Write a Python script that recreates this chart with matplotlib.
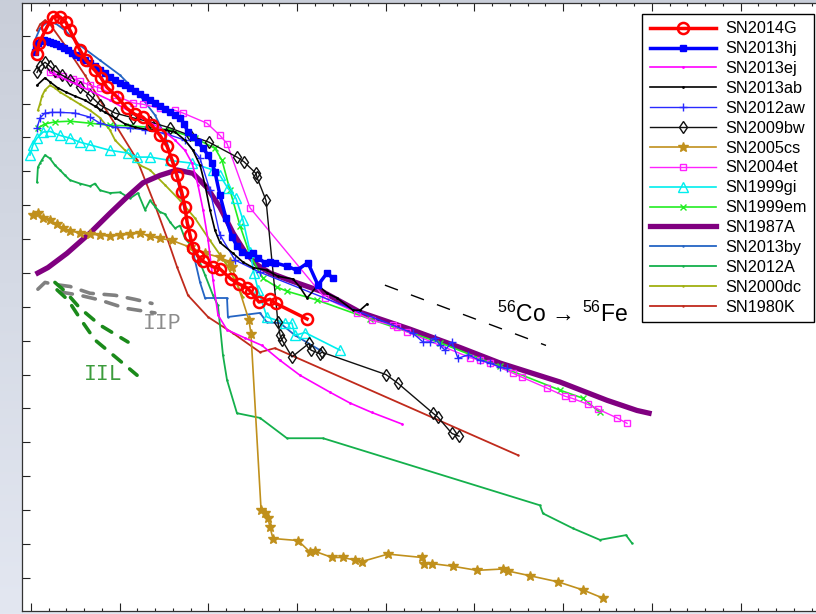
import matplotlib
matplotlib.use("Agg")
import numpy as np
import matplotlib.pyplot as plt
from matplotlib.colors import LinearSegmentedColormap
from matplotlib.ticker import MultipleLocator

plt.rcParams["font.family"] = ["Liberation Sans", "DejaVu Sans"]
plt.rcParams["mathtext.fontset"] = "custom"
plt.rcParams["mathtext.rm"] = "Liberation Sans"
plt.rcParams["mathtext.it"] = "Liberation Sans:italic"
plt.rcParams["mathtext.bf"] = "Liberation Sans:bold"

# ---- light curves: days since explosion vs absolute magnitude ----
sn2014g_day = [3.4, 4.5, 9.0, 12.4, 16.3, 19.7, 22.0, 27.6, 31.0, 36.0, 39.5, 42.8, 48.5, 54.0,
               58.6, 63.0, 68.0, 72.7, 76.7, 79.5, 82.3, 85.0, 86.8, 88.0, 89.6, 91.3, 94.0, 97.0,
               102.6, 106.5, 112.7, 117.0, 121.8, 124.0, 128.5, 134.7, 138.0, 155.6]
sn2014g_mag = [-17.73, -17.89, -18.13, -18.28, -18.28, -18.20, -18.08, -17.79, -17.64, -17.49,
               -17.38, -17.24, -17.10, -16.93, -16.84, -16.80, -16.68, -16.53, -16.37, -16.17,
               -15.94, -15.69, -15.47, -15.25, -15.06, -14.87, -14.75, -14.67, -14.59, -14.56,
               -14.41, -14.34, -14.28, -14.22, -14.07, -14.11, -14.05, -13.82]

sn2013hj_day = [2.3, 2.8, 4.0, 5.6, 7.3, 9.0, 10.7, 12.4, 14.1, 16.4, 18.6, 20.9, 23.1, 25.4, 27.6,
                30.4, 33.3, 36.1, 38.9, 41.7, 44.5, 47.4, 50.2, 53.0, 55.8, 58.6, 61.4, 64.3, 67.1,
                69.9, 72.7, 75.5, 78.4, 81.2, 84.0, 86.3, 88.5, 91.3, 94.1, 97.0, 99.8, 102.0,
                103.7, 106.5, 109.9, 113.3, 116.1, 118.9, 122.3, 125.1, 128.0, 131.9, 134.7,
                137.5, 144.3, 149.9, 156.1, 161.8, 166.9, 170.2]
sn2013hj_mag = [-17.76, -17.83, -17.89, -17.92, -17.94, -17.92, -17.91, -17.89, -17.88, -17.85,
                -17.82, -17.79, -17.74, -17.72, -17.69, -17.64, -17.60, -17.55, -17.49, -17.45,
                -17.39, -17.35, -17.30, -17.27, -17.23, -17.18, -17.14, -17.10, -17.05, -17.01,
                -16.96, -16.92, -16.87, -16.83, -16.79, -16.70, -16.58, -16.50, -16.43, -16.34,
                -16.24, -16.12, -15.99, -15.65, -15.31, -15.03, -14.90, -14.81, -14.76, -14.79,
                -14.72, -14.65, -14.66, -14.65, -14.60, -14.54, -14.65, -14.32, -14.50, -14.42]

sn2013ej_day = [10.7, 27.6, 44.5, 61.4, 72.7, 81.2, 86.8, 90.8, 94.1, 97.0, 99.8, 102.6, 105.4,
                110.5, 120.6, 130.2, 140.4, 151.6, 168.5, 179.8, 192.2, 209.1]
sn2013ej_mag = [-17.46, -17.26, -17.05, -16.80, -16.64, -16.46, -16.31, -16.12, -15.80, -15.43,
                -14.99, -14.40, -13.88, -13.66, -13.54, -13.43, -13.21, -12.99, -12.74, -12.58,
                -12.44, -12.27]

sn2013ab_day = [3.4, 7.9, 10.7, 15.2, 19.7, 24.8, 30.4, 36.1, 41.7, 47.4, 53.0, 58.6, 67.1, 75.5,
                81.2, 86.8, 91.3, 95.3, 98.1, 100.9, 103.7, 106.5, 113.9, 119.5, 125.1, 133.0,
                139.2, 147.7, 151.6, 155.6, 161.8, 166.9, 172.5, 181.5, 185.5, 189.4]
sn2013ab_mag = [-17.27, -17.38, -17.32, -17.23, -17.17, -17.11, -17.05, -16.96, -16.87, -16.79,
                -16.70, -16.65, -16.61, -16.61, -16.58, -16.46, -16.31, -16.09, -15.80, -15.43,
                -15.13, -14.95, -14.79, -14.66, -14.58, -14.54, -14.45, -14.41, -14.29, -14.13,
                -14.32, -14.20, -14.13, -13.95, -13.95, -14.04]

sn2012aw_day = [3.4, 5.1, 7.9, 11.8, 16.3, 24.8, 33.3, 38.9, 47.4, 55.8, 64.3, 75.5, 86.8, 95.3,
                100.9, 106.5, 115.0, 129.1, 215.3, 221.0, 224.9, 227.7, 230.6, 233.4, 237.3,
                240.7, 246.3, 253.1, 258.7, 264.4, 268.3]
sn2012aw_mag = [-16.64, -16.79, -16.86, -16.87, -16.87, -16.86, -16.80, -16.71, -16.65, -16.64,
                -16.61, -16.56, -16.46, -16.19, -15.72, -15.06, -14.69, -14.51, -13.61, -13.48,
                -13.48, -13.54, -13.43, -13.36, -13.48, -13.24, -13.29, -13.21, -13.17, -13.11,
                -13.09]

sn2009bw_day = [3.4, 5.1, 7.9, 10.7, 13.5, 17.5, 22.0, 27.6, 33.3, 38.9, 47.4, 57.5, 67.1, 78.4,
                89.6, 100.3, 116.1, 120.1, 126.8, 127.4, 132.5, 139.2, 140.4, 141.5, 147.1, 156.7,
                157.8, 162.9, 164.0, 200.1, 206.9, 226.6, 229.4, 237.3, 241.3]
sn2009bw_mag = [-17.46, -17.55, -17.61, -17.55, -17.48, -17.42, -17.35, -17.24, -17.12, -16.98,
                -16.86, -16.79, -16.73, -16.64, -16.53, -16.43, -16.21, -16.14, -15.97, -15.91,
                -15.57, -13.77, -13.58, -13.51, -13.26, -13.46, -13.36, -13.31, -13.33, -13.00,
                -12.87, -12.43, -12.37, -12.13, -12.09]

sn2005cs_day = [1.1, 3.9, 6.8, 10.7, 14.7, 18.0, 22.0, 27.6, 33.3, 38.9, 44.5, 50.2, 55.8, 61.4,
                67.1, 72.7, 79.5, 89.6, 98.1, 106.5, 112.2, 113.3, 122.9, 124.0, 129.7, 131.9,
                133.6, 134.7, 136.4, 150.5, 157.3, 160.1, 169.7, 175.9, 182.6, 186.6, 201.2,
                220.4, 221.5, 226.0, 237.9, 251.4, 266.1, 268.9, 281.3, 297.1, 311.2, 322.4]
sn2005cs_mag = [-15.35, -15.38, -15.31, -15.28, -15.22, -15.16, -15.12, -15.09, -15.07, -15.06,
                -15.04, -15.06, -15.07, -15.09, -15.04, -15.01, -14.98, -14.88, -14.79, -14.73,
                -14.66, -14.59, -13.80, -13.60, -11.00, -10.95, -10.88, -10.75, -10.58, -10.55,
                -10.38, -10.39, -10.30, -10.30, -10.26, -10.24, -10.35, -10.30, -10.21, -10.21,
                -10.17, -10.11, -10.13, -10.10, -10.03, -9.94, -9.82, -9.70]

sn2004et_day = [10.7, 14.7, 18.0, 23.7, 27.6, 33.3, 38.9, 47.4, 57.5, 63.1, 72.7, 81.2, 85.7, 99.2,
                106.5, 110.5, 123.5, 165.7, 183.8, 192.2, 204.1, 206.3, 211.9, 247.5, 253.1, 258.7,
                271.7, 276.8, 290.9, 301.0, 305.0, 314.0, 319.6, 330.3, 336.0]
sn2004et_mag = [-17.46, -17.43, -17.41, -17.37, -17.33, -17.27, -17.23, -17.12, -17.01, -16.99,
                -16.93, -16.90, -16.86, -16.71, -16.53, -16.41, -15.46, -14.13, -13.91, -13.80,
                -13.73, -13.70, -13.63, -13.25, -13.21, -13.17, -13.02, -12.96, -12.80, -12.68,
                -12.65, -12.56, -12.49, -12.36, -12.28]

sn1999gi_day = [-0.6, 1.1, 3.4, 6.8, 10.7, 16.3, 22.0, 27.6, 33.3, 44.5, 54.7, 59.8, 67.1, 78.4,
                90.8, 102.6, 106.5, 111.0, 115.6, 119.5, 123.5, 125.7, 128.0, 133.0, 143.2, 147.1,
                148.8, 154.5, 174.2]
sn1999gi_mag = [-16.24, -16.39, -16.49, -16.58, -16.59, -16.53, -16.49, -16.43, -16.39, -16.31,
                -16.27, -16.21, -16.21, -16.16, -16.12, -16.02, -15.94, -15.75, -15.60, -15.28,
                -14.81, -14.50, -14.25, -13.85, -13.76, -13.76, -13.58, -13.62, -13.36]

sn1999em_day = [3.9, 7.9, 13.5, 22.0, 33.3, 44.5, 55.8, 67.1, 78.4, 92.4, 103.7, 107.7, 112.2,
                117.8, 123.5, 130.8, 138.7, 144.3, 161.2, 191.1, 230.6, 264.4, 298.2, 311.2, 320.7]
sn1999em_mag = [-16.64, -16.70, -16.73, -16.74, -16.71, -16.68, -16.67, -16.65, -16.61, -16.49,
                -16.34, -16.16, -15.72, -15.20, -14.76, -14.42, -14.29, -14.23, -14.10, -13.82,
                -13.47, -13.12, -12.77, -12.65, -12.44]

sn1987a_day = [3.9, 9.6, 20.3, 33.3, 44.5, 54.1, 63.1, 72.7, 82.3, 91.3, 99.2, 106.5, 113.9, 120.6,
               127.4, 134.7, 146.0, 164.6, 185.5, 213.6, 241.8, 264.4, 298.2, 324.7, 341.6, 348.4]
sn1987a_mag = [-14.50, -14.58, -14.79, -15.09, -15.38, -15.62, -15.83, -15.94, -16.02, -15.97,
               -15.76, -15.47, -15.09, -14.81, -14.62, -14.50, -14.39, -14.22, -13.92, -13.67,
               -13.40, -13.17, -12.89, -12.62, -12.47, -12.43]

sn2013by_day = [2.3, 5.1, 9.0, 13.5, 19.2, 27.6, 38.9, 50.2, 61.4, 69.9, 75.5, 79.5, 84.0, 88.5,
                92.4, 95.3, 98.1, 110.5, 111.0, 129.1, 133.0, 140.4, 148.8, 162.9]
sn2013by_mag = [-17.94, -18.11, -18.20, -18.19, -18.08, -17.86, -17.64, -17.42, -17.12, -16.83,
                -16.53, -16.17, -15.72, -15.21, -14.69, -14.36, -14.13, -14.13, -13.85, -13.91,
                -13.77, -13.76, -13.58, -13.36]

sn2012a_day = [3.4, 3.9, 5.1, 6.2, 7.9, 10.7, 13.5, 16.3, 19.2, 22.0, 27.6, 33.3, 36.1, 38.9, 44.5,
               50.2, 55.8, 60.3, 64.3, 67.1, 69.9, 72.7, 75.5, 78.4, 81.2, 84.0, 86.8, 92.4, 98.1,
               102.6, 105.4, 108.2, 110.5, 116.1, 129.1, 144.3, 164.6, 286.9, 288.6, 305.5, 320.7,
               335.4, 338.8]
sn2012a_mag = [-15.84, -16.06, -16.12, -16.17, -16.24, -16.19, -16.09, -16.02, -15.94, -15.87,
               -15.82, -15.78, -15.82, -15.72, -15.68, -15.69, -15.60, -15.68, -15.43, -15.57,
               -15.48, -15.40, -15.37, -15.25, -15.16, -15.20, -15.01, -14.84, -14.47, -14.17,
               -14.02, -13.29, -12.92, -12.43, -12.36, -12.06, -12.06, -11.07, -10.95, -10.73,
               -10.56, -10.63, -10.51]

sn2000dc_day = [3.9, 5.1, 6.2, 7.9, 10.7, 13.5, 16.3, 22.0, 27.6, 33.3, 38.9, 44.5, 47.4, 53.0,
                61.4, 67.1, 75.5, 84.0, 92.4, 100.9, 109.4, 115.0, 119.5]
sn2000dc_mag = [-16.90, -17.00, -17.11, -17.20, -17.27, -17.23, -17.17, -17.08, -16.99, -16.90,
                -16.79, -16.61, -16.46, -16.31, -16.09, -16.02, -15.80, -15.57, -15.31, -14.98,
                -14.66, -14.39, -14.14]

sn1980k_day = [3.4, 5.1, 7.9, 10.7, 19.2, 30.4, 38.9, 48.5, 59.8, 69.9, 77.2, 82.3, 88.5, 99.8,
               113.9, 129.1, 137.5, 274.5]
sn1980k_mag = [-18.08, -18.17, -18.23, -18.17, -17.86, -17.42, -17.05, -16.65, -16.17, -15.50,
               -14.98, -14.59, -14.17, -13.85, -13.61, -13.33, -13.39, -11.81]

# template bands (upper / lower edges)
iip_hi_day = [3.9, 7.9, 13.5, 22.0, 33.3, 47.4, 58.6, 68.2]
iip_hi_mag = [-14.26, -14.36, -14.33, -14.30, -14.20, -14.17, -14.11, -14.05]
iip_lo_day = [16.3, 27.6, 38.9, 53.0, 69.9]
iip_lo_mag = [-14.22, -14.17, -14.10, -13.98, -13.91]
iil_hi_day = [13.5, 19.2, 27.6, 38.9, 54.7]
iil_hi_mag = [-14.36, -14.23, -13.98, -13.73, -13.48]
iil_lo_day = [14.7, 20.9, 27.6, 36.1, 48.5, 59.8]
iil_lo_mag = [-14.25, -14.10, -13.83, -13.51, -13.24, -12.99]

# 56Co decay slope, 0.98 mag / 100 d
cobalt_day = [199.5, 290.3]
cobalt_mag = [-14.32, -13.43]

curves = [
    ("SN2014G", sn2014g_day, sn2014g_mag,
     dict(color="#ff0000", lw=2.5, marker="o", ms=8, mfc="none", mew=1.8)),
    ("SN2013hj", sn2013hj_day, sn2013hj_mag,
     dict(color="#0000ff", lw=2.5, marker="s", ms=5)),
    ("SN2013ej", sn2013ej_day, sn2013ej_mag,
     dict(color="#ff00ff", lw=1.2, marker=".", ms=2)),
    ("SN2013ab", sn2013ab_day, sn2013ab_mag,
     dict(color="#000000", lw=1.2, marker=".", ms=2)),
    ("SN2012aw", sn2012aw_day, sn2012aw_mag,
     dict(color="#2a2aff", lw=1.0, marker="+", ms=6, mew=1.0)),
    ("SN2009bw", sn2009bw_day, sn2009bw_mag,
     dict(color="#111111", lw=1.0, marker="d", ms=6, mfc="none", mew=1.0)),
    ("SN2005cs", sn2005cs_day, sn2005cs_mag,
     dict(color="#c0901c", lw=1.2, marker="*", ms=7)),
    ("SN2004et", sn2004et_day, sn2004et_mag,
     dict(color="#ff22ff", lw=1.0, marker="s", ms=5, mfc="none", mew=1.0)),
    ("SN1999gi", sn1999gi_day, sn1999gi_mag,
     dict(color="#00eeee", lw=1.2, marker="^", ms=7, mfc="none", mew=1.0)),
    ("SN1999em", sn1999em_day, sn1999em_mag,
     dict(color="#22ee22", lw=1.2, marker="x", ms=4, mew=1.0)),
    ("SN1987A", sn1987a_day, sn1987a_mag,
     dict(color="#800080", lw=3.8)),
    ("SN2013by", sn2013by_day, sn2013by_mag,
     dict(color="#2464c4", lw=1.3, marker=".", ms=1.5)),
    ("SN2012A", sn2012a_day, sn2012a_mag,
     dict(color="#14b04c", lw=1.3, marker=".", ms=1.5)),
    ("SN2000dc", sn2000dc_day, sn2000dc_mag,
     dict(color="#a0b010", lw=1.3, marker=".", ms=1.5)),
    ("SN1980K", sn1980k_day, sn1980k_mag,
     dict(color="#c02a1c", lw=1.3, marker=".", ms=1.5)),
]

fig = plt.figure(figsize=(8.16, 6.14), dpi=100)
fig.patch.set_facecolor("#d5dae5")

# soft slide backdrop behind the plot
bg = fig.add_axes([0, 0, 1, 1], zorder=-10)
bg.axis("off")
shade = LinearSegmentedColormap.from_list("shade", ["#c9ced9", "#d6dbe6", "#e3e7f1"])
bg.imshow(np.linspace(0, 1, 256).reshape(-1, 1), aspect="auto", cmap=shade,
          extent=[0, 1, 0, 1], origin="upper")

ax = fig.add_axes([0.0271, 0.0049, 0.9892, 0.9897])

for i, (name, d, m, kw) in enumerate(curves):
    ax.plot(d, m, label=name, zorder=40 - i, **kw)

# template bands for IIP and IIL
for d, m in [(iip_hi_day, iip_hi_mag), (iip_lo_day, iip_lo_mag)]:
    ax.plot(d, m, color="#808080", lw=2.6, dashes=(3.5, 3.0), dash_capstyle="round", zorder=5)
for d, m in [(iil_hi_day, iil_hi_mag), (iil_lo_day, iil_lo_mag)]:
    ax.plot(d, m, color="#1a8a1a", lw=2.6, dashes=(3.0, 3.0), dash_capstyle="round", zorder=5)
ax.text(73.8, -13.76, "IIP", family="Liberation Mono", fontsize=15.5, color="#8c8c8c",
        ha="center", va="center")
ax.text(40.6, -13.0, "IIL", family="Liberation Mono", fontsize=15.5, color="#3c9c3c",
        ha="center", va="center")

ax.plot(cobalt_day, cobalt_mag, color="black", lw=1.0, dashes=(10, 10), zorder=5)
ax.text(262.7, -13.77, r"$^{56}$Co$\,\rightarrow\,$$^{56}$Fe", fontsize=16.5,
        ha="left", va="baseline")

ax.set_xlim(-5, 450)
ax.set_ylim(-9.51, -18.48)
ax.xaxis.set_major_locator(MultipleLocator(50))
ax.xaxis.set_minor_locator(MultipleLocator(10))
ax.yaxis.set_major_locator(MultipleLocator(0.5))
ax.tick_params(which="both", direction="in", top=True, right=True,
               labelbottom=False, labelleft=False, width=0.8, color="#222222")
ax.tick_params(which="major", length=5.5)
ax.tick_params(which="minor", length=2.5)
for s in ax.spines.values():
    s.set_linewidth(0.9)
    s.set_color("#333333")

leg = ax.legend(loc="upper right", bbox_to_anchor=(814 / 816, 1 - 14 / 614),
                bbox_transform=fig.transFigure, borderaxespad=0, fontsize=11.7,
                handlelength=4.1, handletextpad=0.55, labelspacing=0.30, borderpad=0.45,
                fancybox=False, framealpha=1, edgecolor="black", numpoints=1)
leg.get_frame().set_linewidth(1.0)
leg.set_zorder(100)

fig.savefig("out.png", dpi=100, facecolor=fig.get_facecolor())
